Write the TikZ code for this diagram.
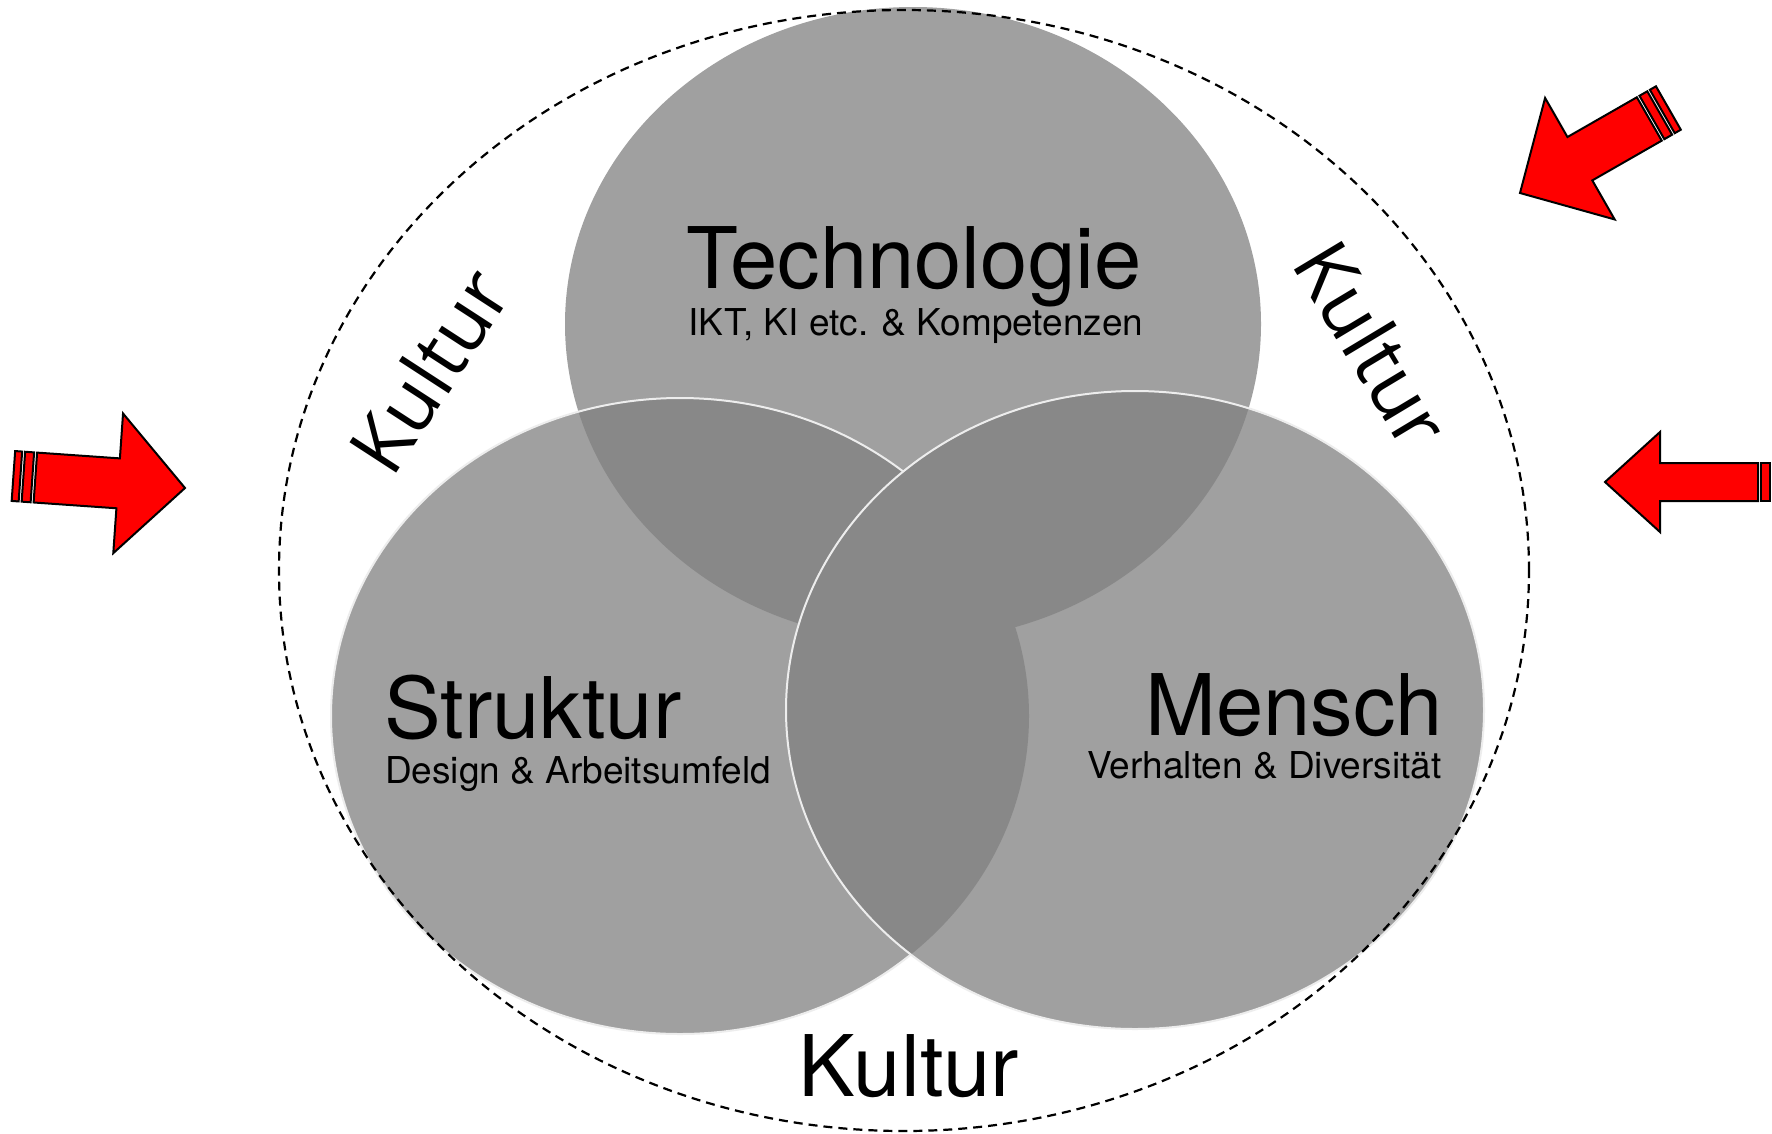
\documentclass[tikz,border=0pt]{standalone}
\usepackage{fontspec}
\setmainfont{TeX Gyre Heros}
\newfontfamily\kulturfont{Open Sans}
\definecolor{circfill}{HTML}{A0A0A0}
\definecolor{overlapc}{HTML}{888888}
\definecolor{rimcol}{HTML}{EDEDED}
\newcommand{\RedArrow}[7]{%
  \begin{scope}[shift={(#1,#2)}, rotate=#3]
    \draw[arrowbody] (0,0) -- (-#4,#5) -- (-#4,#6) -- ({-#4-#7},#6) -- ({-#4-#7},-#6) -- (-#4,-#6) -- (-#4,-#5) -- cycle;
    \draw[arrowbody] ({-#4-#7-3},#6) rectangle ({-#4-#7-12},-#6);
    \draw[arrowbody] ({-#4-#7-15},#6) rectangle ({-#4-#7-22},-#6);
  \end{scope}}
\begin{document}
\begin{tikzpicture}[x=1pt,y=-1pt,
  title/.style={font=\fontsize{85}{100}\selectfont, inner sep=0pt},
  sub/.style={font=\fontsize{37}{44}\selectfont, inner sep=0pt},
  kultur/.style={font=\kulturfont\fontsize{78}{92}\selectfont, inner sep=0pt},
  arrowbody/.style={fill=red, draw=black, line width=2pt, line join=miter},
  venn/.style={fill=circfill},
  ovl/.style={fill=overlapc},
  rim/.style={draw=rimcol, line width=2pt},
  dashring/.style={draw=black, line width=2.2pt, dash pattern=on 9pt off 6pt}]
\useasboundingbox (0,0) rectangle (1772,1133);
\fill[white] (0,0) rectangle (1772,1133);
\coordinate (T) at (913,324);
\coordinate (S) at (680,716);
\coordinate (M) at (1135,710);
\coordinate (C) at (904,570.5);
% Technologie
\fill[venn] (T) ellipse [x radius=348pt, y radius=317pt];
% Struktur
\fill[venn] (S) ellipse [x radius=349pt, y radius=318pt];
\begin{scope}
  \clip (T) ellipse [x radius=348pt, y radius=317pt];
  \fill[ovl] (S) ellipse [x radius=349pt, y radius=318pt];
\end{scope}
\draw[rim] (S) ellipse [x radius=349pt, y radius=318pt];
% Mensch
\fill[venn] (M) ellipse [x radius=349pt, y radius=319pt];
\begin{scope}
  \clip (M) ellipse [x radius=349pt, y radius=319pt];
  \fill[ovl] (T) ellipse [x radius=348pt, y radius=317pt];
  \fill[ovl] (S) ellipse [x radius=349pt, y radius=318pt];
\end{scope}
\draw[rim] (M) ellipse [x radius=349pt, y radius=319pt];
% dashed culture ring
\draw[dashring] (C) ellipse [x radius=625pt, y radius=560.5pt];
% texts
\node[title, anchor=base] (tech) at (914,288) {Technologie};
\node[sub, anchor=base] (techsub) at (916,335) {IKT, KI etc. \& Kompetenzen};
\node[title, anchor=base west] (strukt) at (384,738) {Struktur};
\node[sub, anchor=base west] (struktsub) at (385,783) {Design \& Arbeitsumfeld};
\node[title, anchor=base east] (mensch) at (1443,735) {Mensch};
\node[sub, anchor=base east] (menschsub) at (1442,778) {Verhalten \& Diversität};
\node[title, anchor=base] (kbottom) at (909,1096) {Kultur};
\node[kultur, rotate=57] (kleft) at (429,370) {Kultur};
\node[kultur, rotate=-59] (kright) at (1373,344) {Kultur};
% red arrows
\RedArrow{185}{488}{-4}{67}{70}{25}{83}
\RedArrow{1520}{193}{209.8}{69}{70}{25}{80}
\RedArrow{1605}{482}{180}{55}{50}{19}{98}
\end{tikzpicture}
\end{document}
